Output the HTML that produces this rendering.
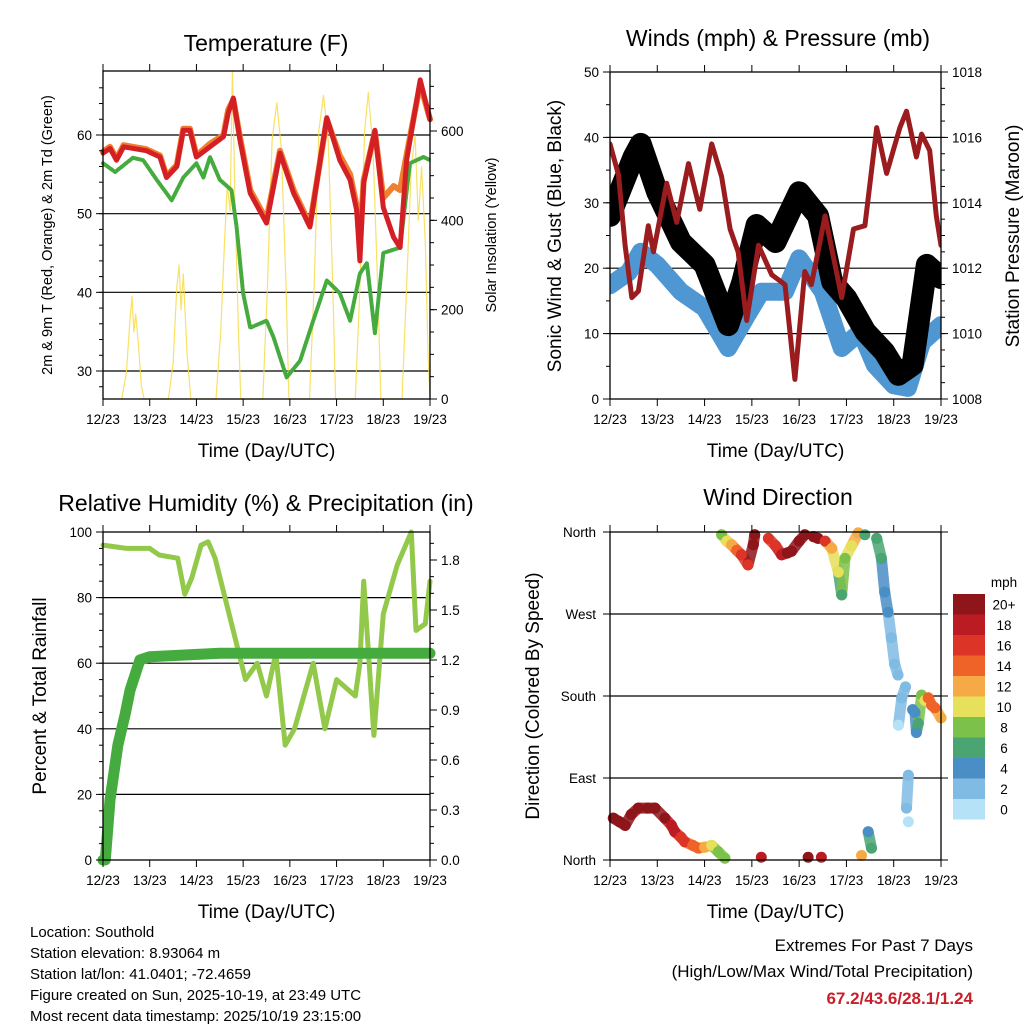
<!DOCTYPE html>
<html><head><meta charset="utf-8"><style>
body{margin:0;background:#fff}
svg{display:block;font-family:"Liberation Sans",Arial,sans-serif}
</style></head><body>
<svg id="s" width="1024" height="1024" viewBox="0 0 1024 1024" xmlns="http://www.w3.org/2000/svg">
<rect width="1024" height="1024" fill="#fff"/>
<text x="266" y="51" font-size="23" text-anchor="middle">Temperature (F)</text>
<text x="778" y="46" font-size="23" text-anchor="middle">Winds (mph) &amp; Pressure (mb)</text>
<text x="266" y="511" font-size="23" text-anchor="middle">Relative Humidity (%) &amp; Precipitation (in)</text>
<text x="778" y="505" font-size="23" text-anchor="middle">Wind Direction</text>
<g id="p1"></g>
<g id="p2"></g>
<g id="p3"></g>
<g id="p4"></g>
<g font-size="15">
<text x="30" y="937">Location: Southold</text>
<text x="30" y="958">Station elevation: 8.93064 m</text>
<text x="30" y="979">Station lat/lon: 41.0401; -72.4659</text>
<text x="30" y="1000">Figure created on Sun, 2025-10-19, at 23:49 UTC</text>
<text x="30" y="1021">Most recent data timestamp: 2025/10/19 23:15:00</text>
</g>
<g text-anchor="end">
<text x="973" y="951" font-size="17">Extremes For Past 7 Days</text>
<text x="973" y="977" font-size="17">(High/Low/Max Wind/Total Precipitation)</text>
<text x="973" y="1004" font-size="17" font-weight="bold" fill="#c8202a">67.2/43.6/28.1/1.24</text>
</g>
</svg>
<script>
const xTickLabels=["12/23","13/23","14/23","15/23","16/23","17/23","18/23","19/23"];
// Temperature (days since 12/23)
const tempT=[0,0.15,0.29,0.44,0.93,1.22,1.36,1.58,1.72,1.86,2.0,2.29,2.58,2.68,2.79,2.93,3.15,3.5,3.79,4.08,4.43,4.79,5.07,5.29,5.43,5.5,5.58,5.82,6.0,6.22,6.36,6.5,6.79,7.0];
const tempRed=[57.7,58.3,56.8,58.5,58,57.2,54.6,56,60.6,60.6,57.2,58.5,59.8,62.8,64.7,59.4,52.6,48.8,57.7,52.6,48.3,62.2,56.8,54.3,50.4,44,53.9,60.6,50.8,47,45.7,56.8,67,62];
const tempOrange=[57.9,58.5,57,58.7,58.2,57.4,54.8,56.2,60.8,60.8,57.4,58.9,60,63.2,64.5,59.8,53,49.2,58,53,48.6,62,57.4,55,51,46,54.3,60.4,52,53.5,53,57.5,66.5,62];
const dewT=[0,0.26,0.64,0.86,1.15,1.47,1.72,2.0,2.15,2.29,2.5,2.75,2.86,3.0,3.15,3.5,3.65,3.93,4.22,4.5,4.79,5.07,5.29,5.5,5.65,5.82,6.0,6.36,6.57,6.86,7.0];
const dewV=[56.4,55.3,57.1,56.8,54.3,51.7,54.6,56.4,54.6,57.2,54.3,53,48.3,39.9,35.5,36.4,34.3,29.2,31.3,36.4,41.5,39.9,36.4,42.4,43.7,34.8,45,45.7,56.4,57.2,56.8];
const solarT=[0.40,0.50,0.58,0.62,0.66,0.70,0.76,0.82,0.88,1.40,1.50,1.58,1.63,1.67,1.72,1.80,1.88,2.42,2.52,2.60,2.66,2.72,2.77,2.83,2.90,2.95,3.42,3.52,3.62,3.72,3.82,3.92,3.98,4.42,4.52,4.62,4.72,4.82,4.92,4.98,5.40,5.50,5.60,5.68,5.78,5.88,5.95,6.40,6.50,6.60,6.68,6.75,6.82,6.90,6.96,7.0];
const solarV=[0,60,180,230,150,190,120,30,0,0,80,250,300,200,280,100,0,0,150,350,480,420,734,420,150,0,0,250,580,663,560,250,0,0,250,600,680,580,250,0,0,250,600,686,560,250,0,0,250,520,590,400,520,350,100,0];
// Winds
const presT=[0,0.18,0.32,0.46,0.6,0.81,0.92,1.2,1.41,1.66,1.9,2.15,2.36,2.54,2.71,2.89,3.14,3.42,3.7,3.91,4.12,4.26,4.55,4.9,5.15,5.39,5.64,5.85,6.13,6.27,6.48,6.59,6.76,6.9,7.0];
const presV=[1015.8,1014.85,1012.7,1011.1,1011.3,1013.3,1012.5,1014.6,1013.4,1015.2,1013.8,1015.8,1014.8,1013.2,1012.5,1010.4,1012.7,1011.8,1011.5,1008.6,1011.9,1011.5,1013.6,1011.1,1013.2,1013.3,1016.3,1014.9,1016.3,1016.8,1015.4,1016.1,1015.6,1013.6,1012.7];
const windT=[0,0.4,0.65,1.0,1.5,2.0,2.5,2.9,3.2,3.7,4.0,4.5,4.9,5.3,5.6,6.0,6.3,6.6,7.0];
const windV=[17.4,19.4,22.5,20.5,16.4,13.9,7.8,12.8,16.4,16.4,21.5,16.4,7.8,10.3,5.2,2.1,1.7,8.7,11.3];
const gustT=[0,0.5,0.65,1.0,1.5,2.0,2.5,2.8,3.1,3.5,4.0,4.4,4.7,5.0,5.4,5.8,6.1,6.4,6.7,7.0];
const gustV=[28,37,39,31.6,24,20.5,11.3,17.9,26.6,24,31.6,28,17.9,15.4,10.3,7.2,3.7,5.2,20.5,18.5];
// Humidity & precip
const rhT=[0,0.5,1.0,1.2,1.6,1.75,1.9,2.1,2.25,2.4,2.7,3.05,3.3,3.5,3.7,3.9,4.1,4.5,4.75,5.0,5.4,5.5,5.58,5.8,6.0,6.3,6.6,6.7,6.9,7.0];
const rhV=[96,95,95,93,92,81,86,96,97,92,75,55,60,50,63,35,40,60,40,55,50,60,85,38,75,90,100,70,72,85];
const precipT=[0,0.05,0.15,0.32,0.47,0.58,0.79,1.0,2.5,7.0];
const precipV=[0,0,0.36,0.69,0.87,1.02,1.2,1.22,1.24,1.24];
// Wind direction
const dirT=[0.07,0.2,0.32,0.45,0.6,0.8,0.95,1.16,1.3,1.37,1.5,1.58,1.75,1.87,2.0,2.15,2.29,2.43,2.36,2.47,2.57,2.68,2.78,2.92,3.03,3.06,3.2,3.35,3.5,3.63,3.75,3.84,4.0,4.12,4.19,4.3,4.4,4.47,4.55,4.69,4.83,4.9,4.97,5.11,5.25,5.32,5.39,5.46,5.53,5.64,5.74,5.81,5.88,5.95,6.02,6.09,6.1,6.17,6.25,6.27,6.31,6.31,6.4,6.45,6.48,6.52,6.59,6.66,6.73,6.8,6.87,7.0];
const dirV=[46,42,38,50,57,57,57,46,38,31,25,20,16,13,14,16,9,2,357,350,346,340,335,324,346,357,3,353,345,335,337,339,350,357,3,355,353,3,350,342,316,291,331,345,359,5,357,31,13,353,331,294,272,244,215,203,148,178,190,57,93,42,165,162,140,150,181,175,178,170,167,156];
const dirS=[21,21,21,21,21,20,20,19,17,17,16,15,13,13,12,10,7,7,8,9,11,13,15,16,19,19,17,15,16,18,19,19,20,20,20,19,19,18,16,12,9,6,8,10,12,11,6,4,6,5,6,4,3,2,2,1,0,1,2,1,1,0,4,3,3,5,7,10,14,13,13,12];
const speedColors=["#b5e2f7","#80bbe3","#4a8ec6","#4aa572","#7cc14a","#e6e05a","#f6aa45","#ef6329","#dc3426","#bb1c24","#8e1519"];
const speedLabels=["0","2","4","6","8","10","12","14","16","18","20+"];

const NS="http://www.w3.org/2000/svg";
function mk(parent,tag,attrs,text){const e=document.createElementNS(NS,tag);for(const k in attrs)e.setAttribute(k,attrs[k]);if(text!==undefined)e.textContent=text;parent.appendChild(e);return e;}
function lin(d0,d1,r0,r1){return v=>r0+(v-d0)*(r1-r0)/(d1-d0);}

function frame(g,X0,X1,Y0,Y1,xs){
  for(let i=0;i<xTickLabels.length;i++){
    const x=xs(i);
    const t1=mk(g,'line',{x1:x,x2:x,y1:Y1,y2:Y1+7,stroke:'#000','stroke-width':1});
    
    
    mk(g,'line',{x1:x,x2:x,y1:Y0,y2:Y0-7,stroke:'#000','stroke-width':1});
    const tl=mk(g,'text',{x:x,y:Y1+25,'font-size':13.5,'text-anchor':'middle'},xTickLabels[i]);
    
    
  }
  const tt=mk(g,'text',{x:(X0+X1)/2,y:Y1+58,'font-size':19,'text-anchor':'middle'},'Time (Day/UTC)');
  
  
}
function box(g,X0,X1,Y0,Y1){
  const b=mk(g,'rect',{x:X0,y:Y0,width:X1-X0,height:Y1-Y0,fill:'none',stroke:'#000','stroke-width':1.3});
  
  
}
function hgrid(g,X0,X1,y){const l=mk(g,'line',{x1:X0,x2:X1,y1:y,y2:y,stroke:'#000','stroke-width':1.2});}
function yticks(g,X,vals,ys,labels,side,minors){
  const d=side<0?-1:1;
  minors.forEach(v=>{mk(g,'line',{x1:X,x2:X+d*4,y1:ys(v),y2:ys(v),stroke:'#000','stroke-width':1});});
  vals.forEach((v,i)=>{
    mk(g,'line',{x1:X,x2:X+d*7,y1:ys(v),y2:ys(v),stroke:'#000','stroke-width':1});
    const t=mk(g,'text',{x:X+d*11,y:ys(v)+5,'font-size':13.5,'text-anchor':side<0?'end':'start'},labels[i]);
    
    
  });
}
function vtitle(g,x,y,size,txt,name){const t=mk(g,'text',{x:x,y:y,'font-size':size,'text-anchor':'middle',transform:`rotate(-90 ${x} ${y})`},txt);}
function line(g,T,V,xs,ys,color,w,name,extra){
  const pts=T.map((t,i)=>xs(t).toFixed(1)+','+ys(V[i]).toFixed(1)).join(' ');
  const p=mk(g,'polyline',Object.assign({points:pts,fill:'none',stroke:color,'stroke-width':w,'stroke-linejoin':'round','stroke-linecap':'round'},extra||{}));
  
  
  return p;
}
function range(a,b,s){const r=[];for(let v=a;v<=b+1e-9;v+=s)r.push(+v.toFixed(4));return r;}

// Panel 1
(function(){
  const g=document.getElementById('p1');const X0=103,X1=430,Y0=71,Y1=399;
  const xs=lin(0,7,X0,X1), ys=lin(30,60,371,135), ysR=lin(0,600,399,131);
  [30,40,50,60].forEach(v=>hgrid(g,X0,X1,ys(v)));
  line(g,solarT,solarV,xs,ysR,'#f7dc4a',1.2,'solar-insolation-line',{opacity:0.85});
  line(g,dewT,dewV,xs,ys,'#45ab3e',4,'dewpoint-line',{'stroke-dasharray':'3 1.5'});
  line(g,tempT,tempOrange,xs,ys,'#f08030',6,'temperature-9m-line');
  line(g,tempT,tempRed,xs,ys,'#d42024',5,'temperature-2m-line');
  box(g,X0,X1,Y0,Y1);
  frame(g,X0,X1,Y0,Y1,i=>xs(i));
  yticks(g,X0,[30,40,50,60],ys,["30","40","50","60"],-1,range(28,66,2));
  yticks(g,X1,[0,200,400,600],ysR,["0","200","400","600"],1,range(0,700,50));
  vtitle(g,52,235,14.5,'2m & 9m T (Red, Orange) & 2m Td (Green)','temperature-y-axis-title');
  vtitle(g,496,235,14.5,'Solar Insolation (Yellow)','solar-y-axis-title');
})();

// Panel 2
(function(){
  const g=document.getElementById('p2');const X0=610,X1=941,Y0=72,Y1=399;
  const xs=lin(0,7,X0,X1), ys=lin(0,50,399,72), ysR=lin(1008,1018,399,72);
  [10,20,30,40].forEach(v=>hgrid(g,X0,X1,ys(v)));
  const cp=mk(g,'clipPath',{id:'c2'});mk(cp,'rect',{x:X0,y:Y0,width:X1-X0,height:Y1-Y0});
  const inner=mk(g,'g',{'clip-path':'url(#c2)'});
  line(inner,windT,windV,xs,ys,'#4f97d2',18,'sustained-wind-band');
  line(inner,gustT,gustV,xs,ys,'#000',22,'gust-band');
  line(inner,presT,presV,xs,ysR,'#9b1c1f',5,'pressure-line');
  box(g,X0,X1,Y0,Y1);
  frame(g,X0,X1,Y0,Y1,i=>xs(i));
  yticks(g,X0,[0,10,20,30,40,50],ys,["0","10","20","30","40","50"],-1,range(0,50,5));
  yticks(g,X1,[1008,1010,1012,1014,1016,1018],ysR,["1008","1010","1012","1014","1016","1018"],1,range(1008,1018,0.5));
  vtitle(g,561,236,19,'Sonic Wind & Gust (Blue, Black)','wind-y-axis-title');
  vtitle(g,1019,236,19,'Station Pressure (Maroon)','pressure-y-axis-title');
})();

// Panel 3
(function(){
  const g=document.getElementById('p3');const X0=103,X1=430,Y0=532,Y1=860;
  const xs=lin(0,7,X0,X1), ys=lin(0,100,860,532), ysR=lin(0,1.2,860,660);
  [20,40,60,80].forEach(v=>hgrid(g,X0,X1,ys(v)));
  line(g,rhT,rhV,xs,ys,'#93c94a',5,'relative-humidity-line');
  line(g,precipT,precipV,xs,ysR,'#45ab3e',11,'precipitation-line');
  box(g,X0,X1,Y0,Y1);
  frame(g,X0,X1,Y0,Y1,i=>xs(i));
  yticks(g,X0,[0,20,40,60,80,100],ys,["0","20","40","60","80","100"],-1,range(0,100,5));
  yticks(g,X1,[0,0.3,0.6,0.9,1.2,1.5,1.8],ysR,["0.0","0.3","0.6","0.9","1.2","1.5","1.8"],1,range(0,1.95,0.1));
  vtitle(g,46,696,19,'Percent & Total Rainfall','rain-y-axis-title');
})();

// Panel 4
(function(){
  const g=document.getElementById('p4');const X0=610,X1=941,Y0=532,Y1=860;
  const xs=lin(0,7,X0,X1), ys=lin(0,360,860,532);
  [90,180,270].forEach(v=>hgrid(g,X0,X1,ys(v)));
  const col=s=>speedColors[Math.min(10,Math.max(0,Math.round(s/2)))];
  for(let i=1;i<dirT.length;i++){
    if(dirT[i]-dirT[i-1]>0.25||dirT[i]<dirT[i-1]||Math.abs(dirV[i]-dirV[i-1])>40)continue;
    const s=mk(g,'line',{x1:xs(dirT[i-1]),y1:ys(dirV[i-1]),x2:xs(dirT[i]),y2:ys(dirV[i]),stroke:col(dirS[i]),'stroke-width':11,'stroke-linecap':'round',opacity:0.85});
    
    
  }
  for(let i=0;i<dirT.length;i++){
    const c=mk(g,'circle',{cx:xs(dirT[i]),cy:ys(dirV[i]),r:5.5,fill:col(dirS[i])});
    
    
  }
  box(g,X0,X1,Y0,Y1);
  frame(g,X0,X1,Y0,Y1,i=>xs(i));
  const names=["North","East","South","West","North"];
  [0,90,180,270,360].forEach((v,i)=>{
    mk(g,'line',{x1:X0,x2:X0-7,y1:ys(v),y2:ys(v),stroke:'#000'});
    mk(g,'line',{x1:X1,x2:X1+7,y1:ys(v),y2:ys(v),stroke:'#000'});
    const t=mk(g,'text',{x:596,y:ys(v)+5,'font-size':13.5,'text-anchor':'end'},names[i]);
    
    
  });
  vtitle(g,539,696,19,'Direction (Colored By Speed)','direction-y-axis-title');
  const cb=mk(g,'g',{});
  
  
  const bh=20.5;
  for(let i=0;i<11;i++){
    const y=594+(10-i)*bh;
    const r=mk(cb,'rect',{x:953,y:y,width:32,height:bh,fill:speedColors[i]});
    
    
    const t=mk(cb,'text',{x:1004,y:y+bh/2+5,'font-size':13.5,'text-anchor':'middle'},speedLabels[i]);
    
    
  }
  const u=mk(cb,'text',{x:1004,y:587,'font-size':13.5,'text-anchor':'middle'},'mph');
  
  
})();
</script>
</body></html>
